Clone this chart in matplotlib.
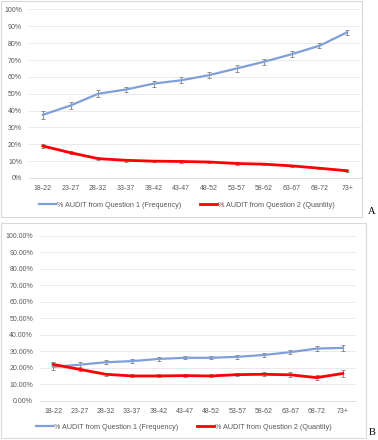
import numpy as np
import matplotlib.pyplot as plt
from matplotlib.patches import Rectangle
from matplotlib.ticker import FuncFormatter

ages = ['18-22', '23-27', '28-32', '33-37', '38-42', '43-47',
        '48-52', '53-57', '58-62', '63-67', '68-72', '73+']

# panel A
a_q1 = [37.5, 43.0, 50.0, 52.5, 56.0, 58.0, 61.0, 65.0, 69.0, 73.5, 78.5, 86.5]
a_q1_err = [2.2, 2.0, 2.0, 1.7, 1.7, 1.7, 1.8, 1.8, 1.8, 1.7, 1.6, 1.4]
a_q2 = [19.0, 15.0, 11.5, 10.5, 10.0, 9.8, 9.5, 8.6, 8.2, 7.2, 5.8, 4.3]
a_q2_err = [1.2, 1.0, 0.9, 0.8, 0.7, 0.7, 0.7, 0.7, 0.7, 0.7, 0.6, 0.5]

# panel B
b_q1 = [20.5, 21.8, 23.3, 24.0, 25.3, 26.0, 26.0, 26.6, 27.7, 29.4, 31.6, 32.0]
b_q1_err = [2.0, 1.6, 1.3, 1.1, 1.1, 1.0, 1.0, 1.1, 1.1, 1.1, 1.3, 1.6]
b_q2 = [22.0, 19.0, 16.0, 15.0, 15.0, 15.2, 15.0, 15.8, 16.0, 15.7, 14.0, 16.5]
b_q2_err = [1.2, 1.0, 1.0, 0.9, 0.9, 0.9, 0.9, 1.0, 1.2, 1.4, 1.6, 2.0]

labels = ['% AUDIT from Question 1 (Frequency)', '% AUDIT from Question 2 (Quantity)']

W, H = 378, 440
fig = plt.figure(figsize=(W / 100, H / 100), dpi=100)
plt.rcParams['font.family'] = 'Liberation Sans'

BLUE = '#7f9fd9'
RED = '#ff0000'
GRAY = '#7f7f7f'


def px_rect(x0, y0, x1, y1):
    return [x0 / W, 1 - y1 / H, (x1 - x0) / W, (y1 - y0) / H]


def draw_panel(rect, q1, q1e, q2, q2e, fmt, frame, letter, leg_y, leg_x):
    fig.patches.append(Rectangle((frame[0] / W, 1 - frame[3] / H),
                                 (frame[2] - frame[0]) / W, (frame[3] - frame[1]) / H,
                                 transform=fig.transFigure, fill=False,
                                 edgecolor='#d9d9d9', linewidth=0.8))
    ax = fig.add_axes(px_rect(*rect))
    x = np.arange(len(ages))
    ax.errorbar(x, q1, yerr=q1e, color=BLUE, linewidth=1.6, ecolor=GRAY,
                elinewidth=0.6, capsize=1.5, capthick=0.6, label=labels[0], zorder=3)
    ax.errorbar(x, q2, yerr=q2e, color=RED, linewidth=2.0, ecolor=GRAY,
                elinewidth=0.6, capsize=1.5, capthick=0.6, label=labels[1], zorder=3)
    ax.set_xlim(-0.5, len(ages) - 0.5)
    ax.set_ylim(0, 100)
    ax.set_yticks(np.arange(0, 101, 10))
    ax.yaxis.set_major_formatter(FuncFormatter(fmt))
    ax.set_xticks(x)
    ax.set_xticklabels(ages)
    ax.grid(axis='y', color='#e6e6e6', linewidth=0.6)
    ax.set_axisbelow(True)
    for s in ['top', 'right', 'left']:
        ax.spines[s].set_visible(False)
    ax.spines['bottom'].set_color('#d9d9d9')
    ax.spines['bottom'].set_linewidth(0.6)
    ax.tick_params(length=0, labelsize=5, labelcolor='#595959', pad=5)
    handles, labs = ax.get_legend_handles_labels()
    handles = [h[0] for h in handles]
    fig.legend(handles, labs, loc='center', bbox_to_anchor=(leg_x / W, 1 - leg_y / H),
               ncol=2, frameon=False, fontsize=5.2, labelcolor='#595959',
               handlelength=2.4, handletextpad=0.1, columnspacing=2.6)
    fig.text(letter[0] / W, 1 - letter[1] / H, letter[2], fontsize=7.5,
             family='Liberation Serif', ha='center', va='center')
    return ax


draw_panel((29, 9.5, 361, 178), a_q1, a_q1_err, a_q2, a_q2_err,
           lambda v, p: f'{v:.0f}%', (1, 1, 362, 217), (372, 211, 'A'), 205, 187)
draw_panel((40, 235.7, 356, 400.7), b_q1, b_q1_err, b_q2, b_q2_err,
           lambda v, p: f'{v:.2f}%', (1, 223, 366, 438), (372, 432, 'B'), 427, 184)

fig.savefig('out.png', dpi=100)
